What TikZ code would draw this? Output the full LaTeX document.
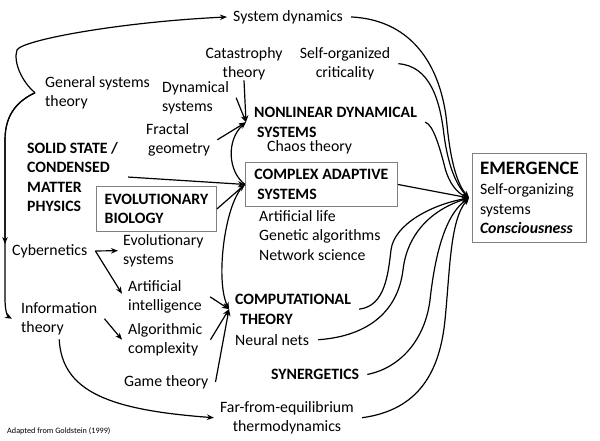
\documentclass[tikz,border=0pt]{standalone}
\usepackage{fontspec}
\setmainfont{Carlito}
\usepackage{tikz}
\usetikzlibrary{arrows.meta,positioning,calc}
\definecolor{Ink}{HTML}{000000}
\definecolor{Frame}{HTML}{808080}
\newcommand{\labelsize}{\fontsize{15.8}{19.5}\selectfont}
\newcommand{\titlesize}{\fontsize{19}{22}\selectfont}
\newcommand{\notesize}{\fontsize{8.2}{10}\selectfont}

\begin{document}
\begin{tikzpicture}[x=1pt,y=-1pt,
    field/.style={inner sep=0pt,anchor=north west,align=left,font=\labelsize,text=Ink},
    topic/.style={field,font=\labelsize\bfseries},
    frame/.style={rectangle,draw=Frame,line width=0.9pt,anchor=north west,align=left,inner sep=0pt,font=\labelsize\bfseries},
    link/.style={draw=Ink,line width=1.2pt,-{Stealth[length=7pt,width=5.5pt]}},
]
\useasboundingbox (0,0) rectangle (600,440);

\node[field] (sysdyn) at (233,10) {System dynamics};
\node[field] (gst) at (45,76) {General systems\\theory};
\node[field,anchor=north,align=center] (cat) at (244,47) {Catastrophy\\theory};
\node[field,anchor=north,align=center] (soc) at (345,47) {Self-organized\\criticality};
\node[field] (dyn) at (162,81) {Dynamical\\systems};
\node[field] (frac) at (146,123) {Fractal\\\hspace*{2pt}geometry};
\node[topic] (solid) at (27,142) {SOLID STATE /\\CONDENSED\\MATTER\\PHYSICS};
\node[frame,minimum width=120pt,minimum height=45pt] (evo) at (96,186) {EVOLUTIONARY\\BIOLOGY};
\node[topic] (nonlin) at (254,107) {NONLINEAR DYNAMICAL\\\hspace*{3pt}SYSTEMS};
\node[field] (chaos) at (267,140) {Chaos theory};
\node[frame,minimum width=152pt,minimum height=44pt] (cas) at (245,162) {COMPLEX ADAPTIVE\\\hspace*{3pt}SYSTEMS};
\node[field] (alife) at (259,210) {Artificial life\\Genetic algorithms\\Network science};
\node[topic] (comp) at (235,294) {COMPUTATIONAL\\\hspace*{5pt}THEORY};
\node[field] (neural) at (235,334) {Neural nets};
\node[topic] (syn) at (271,369) {SYNERGETICS};
\node[field,anchor=north,align=center] (far) at (287,401) {Far-from-equilibrium\\thermodynamics};
\node[frame,font=\labelsize,minimum width=114pt,minimum height=89pt] (emerg) at (472,153)
  {{\titlesize\bfseries EMERGENCE}\\[1pt]Self-organizing\\systems\\\textbf{\textit{Consciousness}}};
\node[field] (cyb) at (12,244) {Cybernetics};
\node[field] (evosys) at (123,234) {Evolutionary\\systems};
\node[field] (ai) at (128,280) {Artificial\\intelligence};
\node[field] (info) at (21,302) {Information\\theory};
\node[field] (algo) at (128,323) {Algorithmic\\complexity};
\node[field] (game) at (124,375) {Game theory};
\node[field,font=\notesize] (src) at (7,427) {Adapted from Goldstein (1999)};

\coordinate (gst tip) at ([xshift=-10pt]gst.west);
\coordinate (cyb tip) at ([xshift=-7pt]cyb.north west);
\coordinate (nl tip) at ([xshift=-8pt]nonlin.west);
\coordinate (ct tip) at ([xshift=-6pt]comp.west);
\coordinate (em tip) at ([xshift=-3pt]emerg.west);

\draw[link] (gst tip) .. controls (22,82) and (13,62) .. (17,50) .. controls (22,40) and (120,22) .. ([xshift=-6pt]sysdyn.west);
\draw[link] (gst tip) .. controls (20,100) and (5,112) .. (5,140) -- (cyb tip);
\draw[link] (gst tip) .. controls (20,100) and (5,112) .. (5,140) -- (5,298) .. controls (5,310) and (7,316) .. ([xshift=-9pt]info.west);

\draw[link] (cat.south) -- (nl tip);
\draw[link] ([xshift=7pt]dyn.east) -- (nl tip);
\draw[link] ([xshift=7pt]frac.east) -- (nl tip);
\draw[link] ([xshift=10pt]solid.east) -- (cas.west);
\draw[link] (evo.east) -- (cas.west);
\draw[link] (cas.west) .. controls (228,172) and (226,140) .. (nl tip);
\draw[link] (cas.west) .. controls (225,200) and (215,280) .. (ct tip);

\draw[link] ([xshift=8pt]cyb.east) -- ([xshift=-5pt]evosys.west);
\draw[link] ([xshift=8pt]cyb.east) -- ([xshift=-6pt,yshift=3pt]ai.west);
\draw[link] ([xshift=7pt]info.east) -- ([xshift=-6pt]algo.west);
\draw[link] ([yshift=-4pt]info.south) .. controls (62,392) and (110,410) .. ([xshift=-6pt]far.west);
\draw[link] ([xshift=8pt]ai.east) -- (ct tip);
\draw[link] ([xshift=8pt]algo.east) -- (ct tip);
\draw[link] ([xshift=7pt]game.east) -- (ct tip);

\draw[link] ([xshift=8pt]sysdyn.east) .. controls (415,20) and (442,70) .. (447,125) .. controls (451,165) and (458,185) .. (em tip);
\draw[link] ([xshift=8pt]soc.east) .. controls (430,66) and (440,100) .. (444,135) .. controls (448,165) and (456,185) .. (em tip);
\draw[link] ([xshift=8pt]nonlin.east) .. controls (433,124) and (440,148) .. (445,168) .. controls (449,183) and (457,193) .. (em tip);
\draw[link] (cas.east) -- (em tip);
\draw[link] ([xshift=8pt]comp.east) .. controls (385,306) and (388,275) .. (391,250) .. controls (394,225) and (430,205) .. (em tip);
\draw[link] ([xshift=9pt]neural.east) .. controls (370,336) and (398,310) .. (403,270) .. controls (407,235) and (430,210) .. (em tip);
\draw[link] ([xshift=8pt]syn.east) .. controls (400,368) and (425,340) .. (430,300) .. controls (435,255) and (445,215) .. (em tip);
\draw[link] ([xshift=8pt]far.east) .. controls (420,410) and (440,370) .. (445,320) .. controls (450,270) and (450,220) .. (em tip);
\end{tikzpicture}
\end{document}
